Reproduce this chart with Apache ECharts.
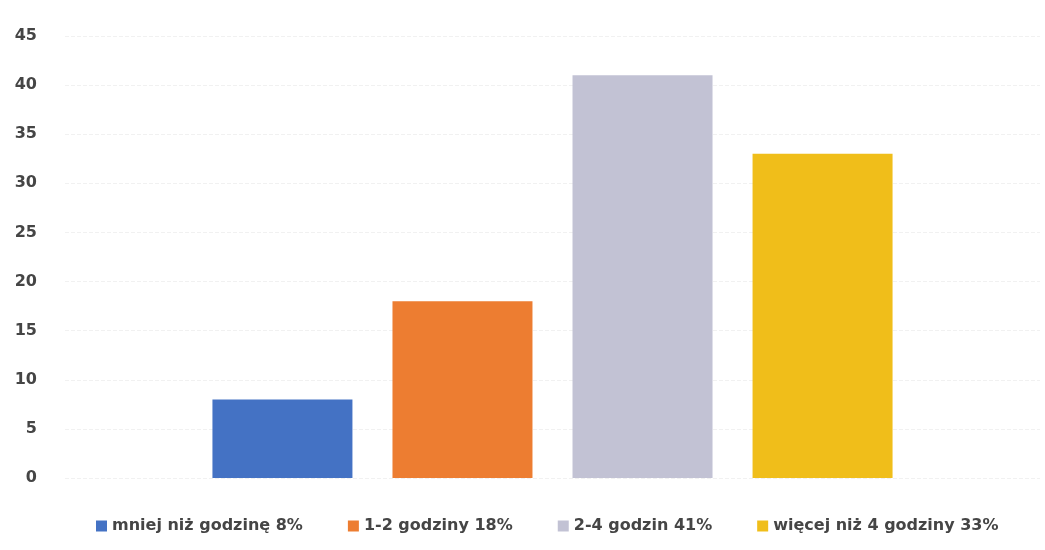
<!DOCTYPE html>
<html lang="pl">
<head>
    <meta charset="UTF-8">
    <script src="https://cdn.jsdelivr.net/npm/echarts@6/dist/echarts.min.js"></script>
    <title>Czas</title>
</head>
<body style="margin:0;background:#fff;">
    <div id="main" style="width:1045px;height:550px;"></div>
    <script>
        // dane z wykresu
        var categories = [''];
        var seriesNames = ['mniej niż godzinę 8%', '1-2 godziny 18%', '2-4 godzin 41%', 'więcej niż 4 godziny 33%'];
        var seriesValues = [8, 18, 41, 33];
        var colors = ['#4472C4', '#ED7D31', '#C2C2D4', '#F0BE1A'];

        var chart = echarts.init(document.getElementById('main'));

        var series = seriesNames.map(function (name, i) {
            return {
                name: name,
                type: 'bar',
                data: [seriesValues[i]],
                barWidth: 140,
                barGap: '28.6%',
                itemStyle: { color: colors[i] }
            };
        });

        var option = {
            color: colors,
            animation: false,
            textStyle: { fontFamily: 'DejaVu Sans' },
            grid: { left: 65, right: 5, top: 36, bottom: 72 },
            legend: {
                bottom: 11,
                left: 91,
                itemWidth: 11,
                itemHeight: 11,
                itemGap: 45,
                icon: 'rect',
                textStyle: { fontSize: 16, fontWeight: 'bold', color: '#454545' }
            },
            xAxis: {
                type: 'category',
                data: categories,
                axisLine: { show: false },
                axisTick: { show: false },
                axisLabel: { show: false }
            },
            yAxis: {
                type: 'value',
                min: 0,
                max: 45,
                interval: 5,
                axisLine: { show: false },
                axisTick: { show: false },
                axisLabel: { margin: 28, fontSize: 16, fontWeight: 'bold', color: '#454545' },
                splitLine: { lineStyle: { color: '#f1f1f1', type: 'dashed' } }
            },
            series: series
        };
        chart.setOption(option);
    </script>
</body>
</html>
